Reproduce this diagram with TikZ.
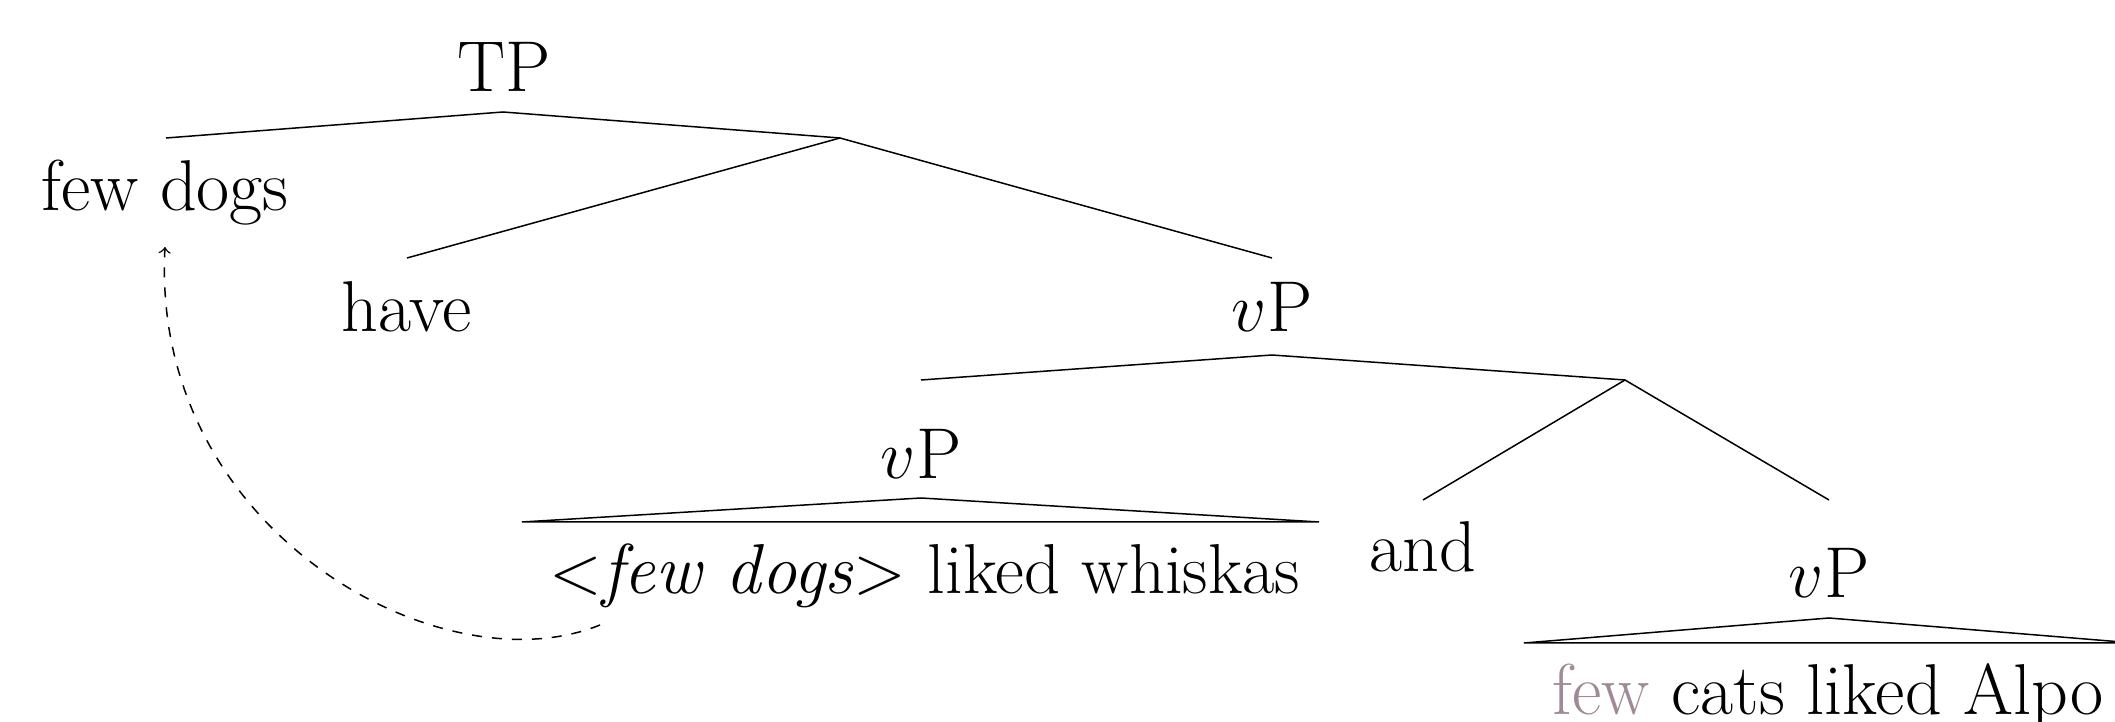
\documentclass[tikz,border=0pt]{standalone}
\usepackage{xcolor}
\definecolor{fewcol}{RGB}{160,138,152}
\begin{document}
\begin{tikzpicture}[x=0.3pt,y=-0.3pt,
  lbl/.style={anchor=base, inner sep=0pt, font=\fontsize{21.6}{26}\selectfont},
  branch/.style={line width=0.45pt},
  movearrow/.style={dashed, line width=0.45pt, -to}]
\useasboundingbox (0,0) rectangle (2115,722);
% labels
\node[lbl] (tp) at (504,92) {TP};
\node[lbl] (fd) at (165,211) {few dogs};
\node[lbl] (have) at (407,332) {have};
\node[lbl] (vp1) at (1272,332) {$v$P};
\node[lbl] (vp2) at (921,479) {$v$P};
\node[lbl, font=\fontsize{21.2}{26}\selectfont] (whisk) at (925,594) {$<$\textit{few dogs}$>$ liked whiskas};
\node[lbl] (and) at (1423,572) {and};
\node[lbl] (vp3) at (1829,598) {$v$P};
\node[lbl] (cats) at (1828,715) {\textcolor{fewcol}{few} cats liked Alpo};
% branch points
\coordinate (tpa) at (503,112);
\coordinate (fdt) at (166,138);
\coordinate (tbar) at (840,138);
\coordinate (havet) at (407,258);
\coordinate (vp1t) at (1272,258);
\coordinate (vp1a) at (1272,355);
\coordinate (vp2t) at (921,380);
\coordinate (cnj) at (1625,380);
\coordinate (andt) at (1423,500);
\coordinate (vp3t) at (1829,500);
\coordinate (tri1a) at (921,498);
\coordinate (tri1l) at (522,522);
\coordinate (tri1r) at (1319,522);
\coordinate (tri2a) at (1829,618);
\coordinate (tri2l) at (1524,643);
\coordinate (tri2r) at (2134,643);
\coordinate (mvs) at (600,625);
\coordinate (mve) at (165,247);
% branches
\draw[branch] (fdt) -- (tpa) -- (tbar);
\draw[branch] (havet) -- (tbar) -- (vp1t);
\draw[branch] (vp2t) -- (vp1a) -- (cnj);
\draw[branch] (andt) -- (cnj) -- (vp3t);
\draw[branch] (tri1l) -- (tri1a) -- (tri1r) -- cycle;
\draw[branch] (tri2l) -- (tri2a) -- (tri2r) -- cycle;
% movement
\draw[movearrow] (mvs) .. controls (440,690) and (150,530) .. (mve);
\end{tikzpicture}
\end{document}
